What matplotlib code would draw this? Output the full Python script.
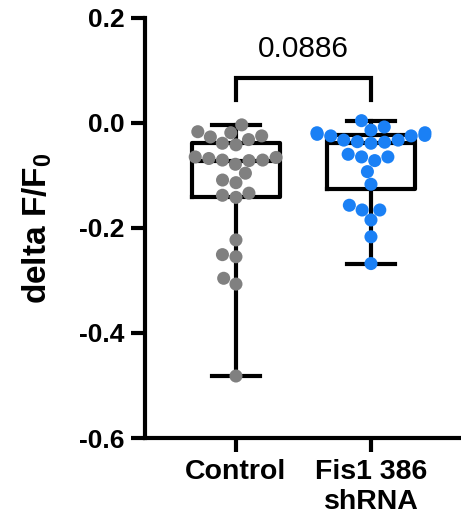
import matplotlib
matplotlib.use("Agg")
import matplotlib.pyplot as plt
import numpy as np
import pandas as pd
import seaborn as sns

# values (delta F/F0)
control = [-0.004, -0.017, -0.019, -0.025, -0.027, -0.032, -0.039, -0.042,
           -0.065, -0.066, -0.068, -0.071, -0.071, -0.072, -0.079, -0.096,
           -0.109, -0.114, -0.134, -0.138, -0.142, -0.223, -0.251, -0.255,
           -0.296, -0.307, -0.482]
fis1 = [0.004, -0.008, -0.014, -0.019, -0.019, -0.022, -0.024, -0.025,
        -0.025, -0.033, -0.033, -0.036, -0.037, -0.039, -0.060, -0.065,
        -0.065, -0.072, -0.093, -0.117, -0.157, -0.166, -0.166, -0.185,
        -0.217, -0.268]
groups = ["Control", "Fis1 386\nshRNA"]
colors = ["#808080", "#1a80f5"]
p_value = "0.0886"
yticks = [-0.6, -0.4, -0.2, 0.0, 0.2]

plt.rcParams["font.family"] = ["Liberation Sans", "DejaVu Sans"]
plt.rcParams["axes.unicode_minus"] = False

fig = plt.figure(figsize=(4.61, 5.25), dpi=100)
ax = fig.add_axes([0.3145, 0.1657, 0.6855, 0.8006])

df = pd.DataFrame({
    "group": [groups[0]] * len(control) + [groups[1]] * len(fis1),
    "value": control + fis1,
})

# box: quartiles like GraphPad, whiskers min to max
stats = []
for vals in (control, fis1):
    v = np.asarray(vals)
    q1, med, q3 = np.percentile(v, [25, 50, 75], method="weibull")
    stats.append({"med": med, "q1": q1, "q3": q3,
                  "whislo": v.min(), "whishi": v.max(), "fliers": []})
lw = 3
ax.bxp(stats, positions=[0, 1], widths=0.65, capwidths=0.36, showfliers=False,
       boxprops=dict(color="black", linewidth=lw),
       medianprops=dict(color="black", linewidth=lw),
       whiskerprops=dict(color="black", linewidth=lw),
       capprops=dict(color="black", linewidth=lw),
       manage_ticks=False, zorder=2)

sns.swarmplot(data=df, x="group", y="value", hue="group", order=groups,
              hue_order=groups, palette=colors, size=9.4, legend=False,
              linewidth=0, ax=ax, zorder=3)

# significance bracket
top, drop = 0.0846, 0.043
ax.plot([0, 0, 1, 1], [drop, top, top, drop], color="black", linewidth=lw,
        solid_joinstyle="miter", clip_on=False)
ax.text(0.5, top + 0.03, p_value, ha="center", va="bottom", fontsize=21.5)

ax.set_xlim(-0.674, 1.667)
ax.set_ylim(-0.6, 0.2)
ax.set_yticks(yticks)
ax.set_yticklabels([f"{t:.1f}" for t in yticks])
ax.set_xticks([0, 1])
ax.set_xticklabels(groups)
ax.set_xlabel("")
ax.set_ylabel("delta F/F$_\\mathregular{0}$", fontsize=24, fontweight="bold",
              labelpad=18)

for side in ("top", "right"):
    ax.spines[side].set_visible(False)
for side in ("left", "bottom"):
    ax.spines[side].set_linewidth(lw)
ax.tick_params(axis="both", direction="out", length=10, width=lw, pad=5)
ax.tick_params(axis="y", labelsize=19)
ax.tick_params(axis="x", labelsize=20.5)
for lab in ax.get_xticklabels() + ax.get_yticklabels():
    lab.set_fontweight("bold")

fig.savefig("out.png", dpi=100)
